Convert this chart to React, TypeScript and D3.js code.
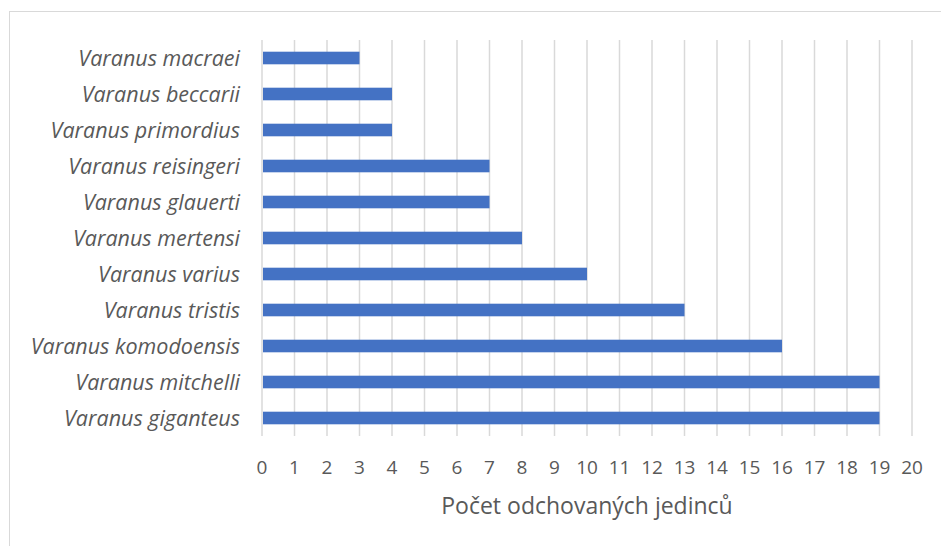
import React from 'react';
import * as d3 from 'd3';

// Horizontal bar chart — reared individuals per Varanus species.

const WIDTH = 941;
const HEIGHT = 546;
const MARGIN = { top: 40, right: 29, bottom: 110, left: 262 };

const SPECIES = [
  'Varanus macraei',
  'Varanus beccarii',
  'Varanus primordius',
  'Varanus reisingeri',
  'Varanus glauerti',
  'Varanus mertensi',
  'Varanus varius',
  'Varanus tristis',
  'Varanus komodoensis',
  'Varanus mitchelli',
  'Varanus giganteus',
];
const COUNTS = [3, 4, 4, 7, 7, 8, 10, 13, 16, 19, 19];
const X_TICKS = d3.range(0, 21);
const X_TITLE = 'Počet odchovaných jedinců';

const FONT = '"Open Sans", sans-serif';
const TEXT = '#595959';
const GRID = '#d9d9d9';
const BAR = '#4472c4';

export default function App() {
  const x = d3
    .scaleLinear()
    .domain([0, 20])
    .range([MARGIN.left, WIDTH - MARGIN.right]);
  const y = d3
    .scaleBand()
    .domain(SPECIES)
    .range([MARGIN.top, HEIGHT - MARGIN.bottom])
    .paddingInner(0.65)
    .paddingOuter(0.325);
  const plotBottom = HEIGHT - MARGIN.bottom;

  return (
    <div style={{ position: 'fixed', left: 0, top: 0 }}>
      <svg width={WIDTH} height={HEIGHT} style={{ display: 'block', background: '#fff' }}>
        <rect x={9.5} y={11.5} width={WIDTH} height={HEIGHT} fill="none" stroke={GRID} strokeWidth={1} />

        {/* vertical gridlines */}
        {X_TICKS.map((t) => (
          <line
            key={`g-${t}`}
            x1={x(t)}
            x2={x(t)}
            y1={MARGIN.top}
            y2={plotBottom}
            stroke={GRID}
            strokeWidth={1.5}
          />
        ))}

        {/* bars */}
        {SPECIES.map((s, i) => (
          <rect
            key={s}
            x={x(0) + 1}
            y={y(s)}
            width={x(COUNTS[i]) - x(0) - 1}
            height={y.bandwidth()}
            fill={BAR}
          />
        ))}

        {/* category labels */}
        {SPECIES.map((s) => (
          <text
            key={`l-${s}`}
            x={MARGIN.left - 22}
            y={(y(s) ?? 0) + y.bandwidth() / 2}
            dy="0.35em"
            textAnchor="end"
            fontFamily={FONT}
            fontStyle="italic"
            fontSize={21.5}
            fill={TEXT}
          >
            {s}
          </text>
        ))}

        {/* tick labels */}
        {X_TICKS.map((t) => (
          <text
            key={`t-${t}`}
            x={x(t)}
            y={474}
            textAnchor="middle"
            fontFamily={FONT}
            fontSize={19}
            fill={TEXT}
          >
            {t}
          </text>
        ))}

        <text
          x={(x(0) + x(20)) / 2}
          y={514}
          textAnchor="middle"
          fontFamily={FONT}
          fontSize={23}
          fill={TEXT}
        >
          {X_TITLE}
        </text>
      </svg>
    </div>
  );
}
